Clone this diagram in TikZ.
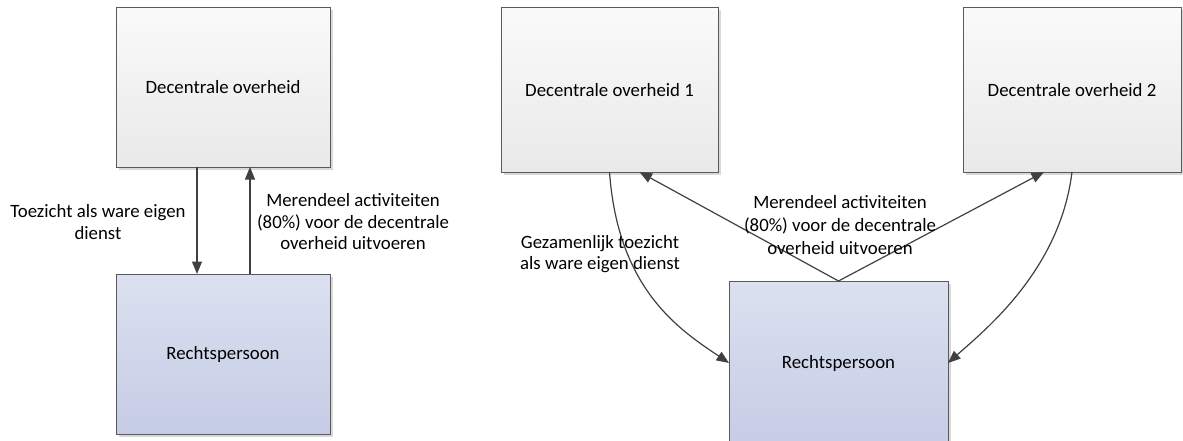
\documentclass[tikz,border=0pt]{standalone}
\usepackage{fontspec}
\setmainfont{Carlito}
\usetikzlibrary{shadows,arrows.meta}
\definecolor{edge}{HTML}{5A5A5A}
\definecolor{arr}{HTML}{404040}
\definecolor{grayTop}{HTML}{FAFAFA}
\definecolor{grayBot}{HTML}{E9E9E9}
\definecolor{blueTop}{HTML}{DCE1F0}
\definecolor{blueBot}{HTML}{C5CCE5}
\tikzset{
  box/.style={draw=edge, line width=1pt, inner sep=0pt, outer sep=0pt,
    font=\fontsize{18.8}{22}\selectfont,
    drop shadow={shadow xshift=2.5pt, shadow yshift=-2.5pt, fill=black, opacity=0.15}},
  graybox/.style={box, top color=grayTop, bottom color=grayBot},
  bluebox/.style={box, top color=blueTop, bottom color=blueBot},
  lbl/.style={align=center, inner sep=0pt, font=\fontsize{18.8}{21.5}\selectfont},
  conn/.style={draw=arr, line width=1.2pt, -{Triangle[length=12.5pt,width=10pt]}},
}
\begin{document}
\begin{tikzpicture}[x=1pt,y=-1pt]
\useasboundingbox (0,0) rectangle (1183,441);
% left part
\node[graybox, minimum width=214pt, minimum height=159pt] (d0) at (223,87.5) {Decentrale overheid};
\node[bluebox, minimum width=214pt, minimum height=160pt] (r1) at (223,354) {Rechtspersoon};
\draw[conn] ([xshift=-26pt]d0.south) -- ([xshift=-26pt]r1.north);
\draw[conn] ([xshift=27pt]r1.north) -- ([xshift=27pt]d0.south);
\node[lbl] (l1) at (98,222) {Toezicht als ware eigen\\dienst};
\node[lbl] (l2) at (353,222) {Merendeel activiteiten\\(80\%) voor de decentrale\\overheid uitvoeren};
% right part
\node[graybox, minimum width=217pt, minimum height=164pt] (d1) at (609.5,90) {Decentrale overheid 1};
\node[graybox, minimum width=218pt, minimum height=164pt] (d2) at (1072,90) {Decentrale overheid 2};
\node[bluebox, minimum width=219pt, minimum height=164pt] (r2) at (838.5,363) {Rechtspersoon};
\draw[conn] (d1.south) .. controls (618,290) and (680,330) .. (r2.west);
\draw[conn] (d2.south) .. controls (1060,270) and (985,330) .. (r2.east);
\draw[conn] (r2.north) -- ([xshift=30pt]d1.south);
\draw[conn] (r2.north) -- ([xshift=-28pt]d2.south);
\node[lbl] (l3) at (600,254) {Gezamenlijk toezicht\\als ware eigen dienst};
\node[lbl, font=\fontsize{18.8}{23}\selectfont] (l4) at (840,225) {Merendeel activiteiten\\(80\%) voor de decentrale\\overheid uitvoeren};
\end{tikzpicture}
\end{document}
